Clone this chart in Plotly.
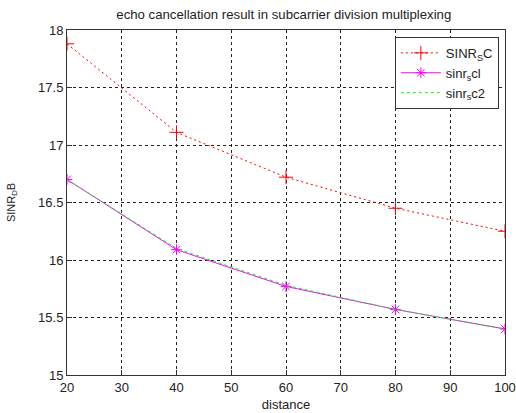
import plotly.graph_objects as go

# ── Data ────────────────────────────────────────────────────────────────────
distance  = [20, 40, 60, 80, 100]
sinr_sc   = [17.88, 17.11, 16.72, 16.45, 16.25]
sinr_sc1  = [16.70, 16.09, 15.77, 15.57, 15.40]
sinr_sc2  = [16.70, 16.10, 15.78, 15.57, 15.40]

x_ticks = [20, 30, 40, 50, 60, 70, 80, 90, 100]
y_ticks = [15, 15.5, 16, 16.5, 17, 17.5, 18]

FONT = "Liberation Sans, Arial, sans-serif"

W, H = 516, 413

fig = go.Figure()

fig.add_trace(go.Scatter(
    x=distance, y=sinr_sc, mode="lines+markers",
    name="SINR<sub>S</sub>C",
    line=dict(color="#ff0000", width=1, dash="2px,3px"),
    marker=dict(symbol="cross-thin-open", size=10, color="#ff0000",
                line=dict(color="#ff0000", width=1)),
))
fig.add_trace(go.Scatter(
    x=distance, y=sinr_sc1, mode="lines+markers",
    name="sinr<sub>s</sub>cl",
    line=dict(color="#ff00ff", width=1),
    marker=dict(symbol="asterisk-open", size=9, color="#ff00ff",
                line=dict(color="#ff00ff", width=1)),
))
fig.add_trace(go.Scatter(
    x=distance, y=sinr_sc2, mode="lines",
    name="sinr<sub>s</sub>c2",
    line=dict(color="#00ff00", width=1, dash="3px,3px"),
))

axis_common = dict(
    showline=True, linecolor="#333333", linewidth=1, mirror=True,
    ticks="inside", ticklen=5, tickcolor="#333333",
    showgrid=True, gridcolor="#222222", gridwidth=1, griddash="3px,3px",
    zeroline=False, automargin=False,
    tickfont=dict(size=13, color="#222222", family=FONT),
)

fig.update_layout(
    template="none",
    width=W, height=H,
    paper_bgcolor="#ffffff", plot_bgcolor="#ffffff",
    margin=dict(l=67, r=11, t=30, b=38, pad=0),
    font=dict(family=FONT, size=13, color="#000000"),
    title=dict(
        text="echo cancellation result in subcarrier division multiplexing",
        x=0.55, xanchor="center", y=0.964, yanchor="middle",
        font=dict(size=13.2, color="#222222", family=FONT),
    ),
    xaxis=dict(
        axis_common, range=[20, 100], tickvals=x_ticks,
        title=dict(text="distance", standoff=6,
                   font=dict(size=13, color="#222222", family=FONT)),
    ),
    yaxis=dict(
        axis_common, range=[15, 18], tickvals=y_ticks,
        ticktext=[f"{v:g}" for v in y_ticks],
        title=dict(text="SINR<sub>D</sub>B", standoff=20,
                   font=dict(size=11, color="#222222", family=FONT)),
    ),
    legend=dict(
        x=0.986, xanchor="right", y=0.98, yanchor="top",
        bgcolor="#ffffff", bordercolor="#333333", borderwidth=1,
        font=dict(size=13, color="#222222", family=FONT),
        itemwidth=40,
    ),
)

# drop the page's default 8px body margin so the figure fills the window
fig.write_html("out.html", config={"displayModeBar": False},
               post_script="document.body.style.margin='0';")
